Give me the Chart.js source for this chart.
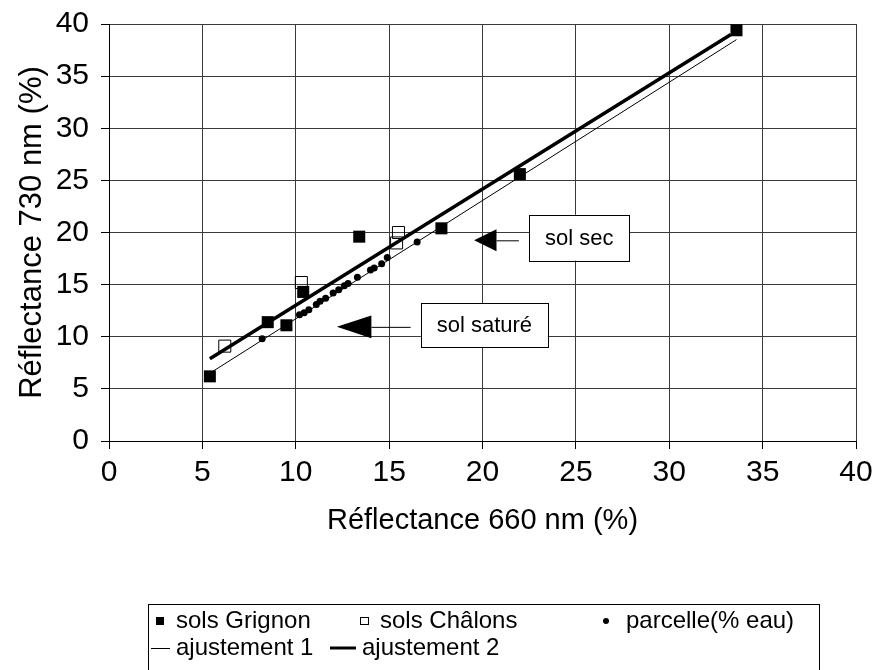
<!DOCTYPE html>
<html>
<head>
<meta charset="utf-8">
<script src="https://cdn.jsdelivr.net/npm/chart.js@4/dist/chart.umd.min.js"></script>
<style>
  html, body { margin: 0; padding: 0; background: #fff; }
  #wrap { width: 873px; height: 670px; }
</style>
</head>
<body>
<div id="wrap"><canvas id="chart" width="873" height="670"></canvas></div>
<script>
// valeurs
const grignonX = [5.4, 8.5, 9.5, 10.4, 13.4, 17.8, 22.0, 33.6];
const grignonY = [6.2, 11.4, 11.1, 14.3, 19.6, 20.4, 25.6, 39.4];
const chalonsX = [6.2, 10.3, 15.5, 15.4];
const chalonsY = [9.1, 15.2, 20.0, 19.0];
const parcelleX = [8.2, 10.2, 10.45, 10.7, 11.1, 11.3, 11.6, 12.0, 12.3, 12.6, 12.8, 13.3, 14.0, 14.2, 14.6, 14.9, 16.5];
const parcelleY = [9.8, 12.1, 12.3, 12.6, 13.1, 13.4, 13.7, 14.2, 14.5, 14.9, 15.1, 15.7, 16.4, 16.6, 17.0, 17.6, 19.1];
const fit1X = [5.4, 33.6];
const fit1Y = [6.5, 38.5];
const fit2X = [5.4, 33.3];
const fit2Y = [7.9, 39.0];
const axisMin = 0, axisMax = 40, axisStep = 5;

const pts = (xs, ys) => xs.map((x, i) => ({ x, y: ys[i] }));

// flèches + étiquettes (unités des axes)
const notes = [
  { text: 'sol sec', tip: [19.55, 19.25], base: 20.75, half: 1.05, tail: 21.95, box: [22.5, 21.7, 27.85, 17.3] },
  { text: 'sol saturé', tip: [12.2, 10.95], base: 14.05, half: 1.1, tail: 16.15, box: [16.7, 13.2, 23.5, 9.0] }
];

const FONT = '"Liberation Sans", Arial, Helvetica, sans-serif';
Chart.defaults.font.family = FONT;
Chart.defaults.color = '#000';

const extras = {
  id: 'extras',
  afterDraw(chart) {
    const { ctx, scales: { x, y } } = chart;
    ctx.save();
    ctx.lineWidth = 1;
    ctx.strokeStyle = '#000';
    ctx.fillStyle = '#000';

    // annotations
    notes.forEach(n => {
      const tx = x.getPixelForValue(n.tip[0]), ty = y.getPixelForValue(n.tip[1]);
      const bx = x.getPixelForValue(n.base);
      const hh = Math.abs(y.getPixelForValue(0) - y.getPixelForValue(n.half));
      ctx.beginPath();
      ctx.moveTo(tx, ty);
      ctx.lineTo(bx, ty - hh);
      ctx.lineTo(bx, ty + hh);
      ctx.closePath();
      ctx.fill();
      ctx.beginPath();
      ctx.moveTo(bx, ty + 0.5);
      ctx.lineTo(x.getPixelForValue(n.tail), ty + 0.5);
      ctx.stroke();
      const l = x.getPixelForValue(n.box[0]), t = y.getPixelForValue(n.box[1]);
      const r = x.getPixelForValue(n.box[2]), b = y.getPixelForValue(n.box[3]);
      ctx.fillStyle = '#fff';
      ctx.fillRect(l, t, r - l, b - t);
      ctx.strokeRect(Math.round(l) + 0.5, Math.round(t) + 0.5, Math.round(r - l), Math.round(b - t));
      ctx.fillStyle = '#000';
      ctx.font = '22px ' + FONT;
      ctx.textAlign = 'center';
      ctx.textBaseline = 'middle';
      ctx.fillText(n.text, (l + r) / 2, (t + b) / 2 + 1);
    });

    // légende
    ctx.strokeRect(148.5, 604.5, 671, 80);
    ctx.font = '24px ' + FONT;
    ctx.textAlign = 'left';
    ctx.textBaseline = 'middle';
    const r1 = 621, r2 = 648;
    ctx.fillRect(156, r1 - 4, 8, 8);
    ctx.fillText('sols Grignon', 176, r1);
    ctx.strokeRect(360.5, r1 - 3.5, 8, 7);
    ctx.fillText('sols Châlons', 380, r1);
    ctx.beginPath();
    ctx.arc(606, r1, 3, 0, Math.PI * 2);
    ctx.fill();
    ctx.fillText('parcelle(% eau)', 626, r1);
    ctx.beginPath();
    ctx.moveTo(151, r2 + 0.5);
    ctx.lineTo(170, r2 + 0.5);
    ctx.stroke();
    ctx.fillText('ajustement 1', 176, r2);
    ctx.lineWidth = 3;
    ctx.beginPath();
    ctx.moveTo(330, r2);
    ctx.lineTo(356, r2);
    ctx.stroke();
    ctx.fillText('ajustement 2', 362, r2);
    ctx.restore();
  }
};

const axisCommon = {
  type: 'linear',
  min: axisMin,
  max: axisMax,
  grid: { color: '#3a3a3a', lineWidth: 1, tickLength: 8, tickColor: '#000' },
  border: { color: '#000', width: 1 }
};

new Chart(document.getElementById('chart'), {
  type: 'scatter',
  data: {
    datasets: [
      {
        label: 'ajustement 2',
        data: pts(fit2X, fit2Y),
        showLine: true,
        borderColor: '#000',
        borderWidth: 3.5,
        pointRadius: 0,
        order: 1
      },
      {
        label: 'ajustement 1',
        data: pts(fit1X, fit1Y),
        showLine: true,
        borderColor: '#000',
        borderWidth: 1,
        pointRadius: 0,
        order: 2
      },
      {
        label: 'sols Grignon',
        data: pts(grignonX, grignonY),
        pointStyle: 'rect',
        pointRadius: 8.5,
        backgroundColor: '#000',
        borderColor: '#000',
        borderWidth: 0,
        order: 3
      },
      {
        label: 'sols Châlons',
        data: pts(chalonsX, chalonsY),
        pointStyle: 'rect',
        pointRadius: 8.5,
        backgroundColor: 'rgba(255,255,255,0)',
        borderColor: '#000',
        borderWidth: 1,
        order: 4
      },
      {
        label: 'parcelle(% eau)',
        data: pts(parcelleX, parcelleY),
        pointStyle: 'circle',
        pointRadius: 3.5,
        backgroundColor: '#000',
        borderColor: '#000',
        borderWidth: 0,
        order: 5
      }
    ]
  },
  options: {
    responsive: false,
    animation: false,
    layout: { padding: { left: 0, top: 24, right: 17, bottom: 0 } },
    plugins: { legend: { display: false }, tooltip: { enabled: false } },
    scales: {
      x: {
        ...axisCommon,
        ticks: { stepSize: axisStep, color: '#000', font: { size: 30 }, padding: 6, maxRotation: 0 },
        title: { display: true, text: 'Réflectance 660 nm (%)', color: '#000', font: { size: 29 }, padding: { top: 0, bottom: 132 } },
        afterFit: s => { s.height = 229; s.paddingLeft = 0; s.paddingRight = 0; }
      },
      y: {
        ...axisCommon,
        ticks: { stepSize: axisStep, color: '#000', font: { size: 30 }, padding: 12 },
        title: { display: true, text: 'Réflectance 730 nm (%)', color: '#000', font: { size: 31 }, padding: { top: 14, bottom: 0 } },
        afterFit: s => { s.width = 109; s.paddingTop = 0; s.paddingBottom = 0; }
      }
    }
  },
  plugins: [extras]
});
</script>
</body>
</html>
